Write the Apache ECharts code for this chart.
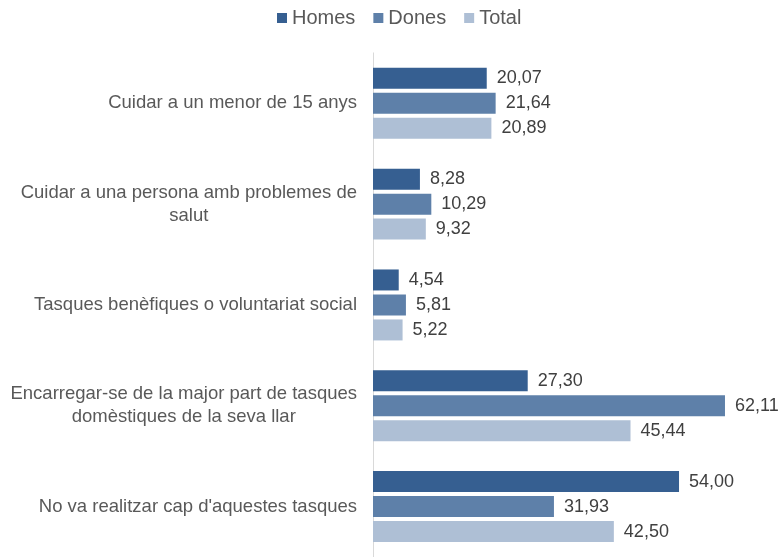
<!DOCTYPE html>
<html>
<head>
<meta charset="utf-8">
<script src="https://cdn.jsdelivr.net/npm/echarts@6/dist/echarts.min.js"></script>
<style>
  html, body { margin: 0; padding: 0; background: #fff; }
  #chart { width: 781px; height: 557px; }
</style>
</head>
<body>
<div id="chart"></div>
<script>
const categories = [
  'Cuidar a un menor de 15 anys',
  'Cuidar a una persona amb problemes de salut',
  'Tasques benèfiques o voluntariat social',
  'Encarregar-se de la major part de tasques domèstiques de la seva llar',
  "No va realitzar cap d'aquestes tasques",
];
const homes = [20.07, 8.28, 4.54, 27.30, 54.00];
const dones = [21.64, 10.29, 5.81, 62.11, 31.93];
const total = [20.89, 9.32, 5.22, 45.44, 42.50];

const font = '"Liberation Sans", Arial, sans-serif';
const catSize = 18.5;
const fmt = (p) => p.value.toFixed(2).replace('.', ',');

// greedy word wrap, each line centred inside the right-aligned label block
const ctx = document.createElement('canvas').getContext('2d');
ctx.font = catSize + 'px ' + font;
const wrap = (text, maxW) => {
  const lines = [];
  let cur = '';
  text.split(' ').forEach((w) => {
    const next = cur ? cur + ' ' + w : w;
    if (cur && ctx.measureText(next).width > maxW) {
      lines.push(cur);
      cur = w;
    } else {
      cur = next;
    }
  });
  lines.push(cur);
  return lines.map((l) => '{c|' + l + '}').join('\n');
};

const makeSeries = (name, data, color) => ({
  name,
  type: 'bar',
  data,
  barWidth: 21,
  barGap: '19%',
  itemStyle: { color },
  label: {
    show: true,
    position: 'right',
    distance: 10,
    formatter: fmt,
    color: '#404040',
    fontSize: 18,
    fontFamily: font,
  },
  emphasis: { disabled: true },
  animation: false,
});

const chart = echarts.init(document.getElementById('chart'));
chart.setOption({
  textStyle: { fontFamily: font },
  legend: {
    top: 8,
    left: 277,
    padding: 0,
    itemWidth: 10,
    itemHeight: 10,
    itemGap: 18,
    icon: 'rect',
    textStyle: { fontSize: 20, color: '#595959', fontFamily: font },
    data: ['Homes', 'Dones', 'Total'],
  },
  grid: {
    left: 373,
    top: 52.9,
    width: 396.7,
    height: 509.3,
    containLabel: false,
  },
  xAxis: {
    type: 'value',
    min: 0,
    max: 70,
    show: false,
  },
  yAxis: {
    type: 'category',
    inverse: true,
    data: categories,
    axisLine: { show: true, lineStyle: { color: '#d9d9d9', width: 1 } },
    axisTick: { show: false },
    splitLine: { show: false },
    axisLabel: {
      margin: 16,
      formatter: (v) => wrap(v, 356),
      rich: {
        c: {
          align: 'center',
          color: '#595959',
          fontSize: catSize,
          lineHeight: 23,
          fontFamily: font,
        },
      },
    },
  },
  series: [
    makeSeries('Homes', homes, '#365F91'),
    makeSeries('Dones', dones, '#5E80A9'),
    makeSeries('Total', total, '#AEBFD5'),
  ],
});
</script>
</body>
</html>
